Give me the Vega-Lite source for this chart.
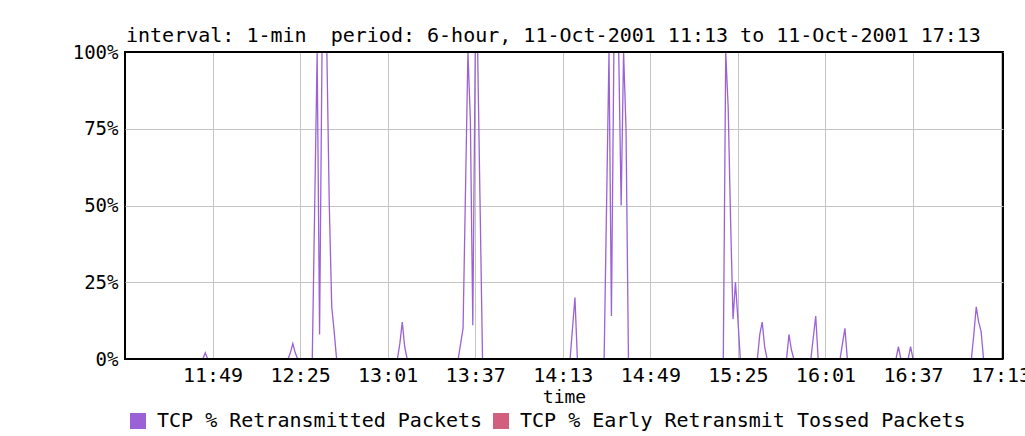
{
"$schema": "https://vega.github.io/schema/vega-lite/v6.json",
"width": 878, "height": 307,
"autosize": "none",
"padding": {"left": 125, "top": 52, "right": 22, "bottom": 77},
"background": "white",
"title": {"text": "interval: 1-min \u00a0period: 6-hour, 11-Oct-2001 11:13 to 11-Oct-2001 17:13", "anchor": "start", "frame": "group", "font": "DejaVu Sans Mono", "fontSize": 20, "fontWeight": "normal", "color": "black", "offset": -3, "dx": 1},
"config": {"view": {"stroke": "black", "strokeWidth": 2}, "font": "DejaVu Sans Mono"},
"data": {"format": {"parse": {"t": "date:'%H:%M'"}}, "values": [
{"t":"11:13","r":0,"e":0},{"t":"11:14","r":0,"e":0},{"t":"11:15","r":0,"e":0},{"t":"11:16","r":0,"e":0},{"t":"11:17","r":0,"e":0},{"t":"11:18","r":0,"e":0},{"t":"11:19","r":0,"e":0},{"t":"11:20","r":0,"e":0},{"t":"11:21","r":0,"e":0},{"t":"11:22","r":0,"e":0},{"t":"11:23","r":0,"e":0},{"t":"11:24","r":0,"e":0},{"t":"11:25","r":0,"e":0},{"t":"11:26","r":0,"e":0},{"t":"11:27","r":0,"e":0},{"t":"11:28","r":0,"e":0},{"t":"11:29","r":0,"e":0},{"t":"11:30","r":0,"e":0},{"t":"11:31","r":0,"e":0},{"t":"11:32","r":0,"e":0},{"t":"11:33","r":0,"e":0},{"t":"11:34","r":0,"e":0},{"t":"11:35","r":0,"e":0},{"t":"11:36","r":0,"e":0},{"t":"11:37","r":0,"e":0},{"t":"11:38","r":0,"e":0},{"t":"11:39","r":0,"e":0},{"t":"11:40","r":0,"e":0},{"t":"11:41","r":0,"e":0},{"t":"11:42","r":0,"e":0},{"t":"11:43","r":0,"e":0},{"t":"11:44","r":0,"e":0},{"t":"11:45","r":0,"e":0},{"t":"11:46","r":2,"e":0},{"t":"11:47","r":0,"e":0},{"t":"11:48","r":0,"e":0},{"t":"11:49","r":0,"e":0},{"t":"11:50","r":0,"e":0},{"t":"11:51","r":0,"e":0},{"t":"11:52","r":0,"e":0},{"t":"11:53","r":0,"e":0},{"t":"11:54","r":0,"e":0},{"t":"11:55","r":0,"e":0},{"t":"11:56","r":0,"e":0},{"t":"11:57","r":0,"e":0},{"t":"11:58","r":0,"e":0},{"t":"11:59","r":0,"e":0},
{"t":"12:00","r":0,"e":0},{"t":"12:01","r":0,"e":0},{"t":"12:02","r":0,"e":0},{"t":"12:03","r":0,"e":0},{"t":"12:04","r":0,"e":0},{"t":"12:05","r":0,"e":0},{"t":"12:06","r":0,"e":0},{"t":"12:07","r":0,"e":0},{"t":"12:08","r":0,"e":0},{"t":"12:09","r":0,"e":0},{"t":"12:10","r":0,"e":0},{"t":"12:11","r":0,"e":0},{"t":"12:12","r":0,"e":0},{"t":"12:13","r":0,"e":0},{"t":"12:14","r":0,"e":0},{"t":"12:15","r":0,"e":0},{"t":"12:16","r":0,"e":0},{"t":"12:17","r":0,"e":0},{"t":"12:18","r":0,"e":0},{"t":"12:19","r":0,"e":0},{"t":"12:20","r":0,"e":0},{"t":"12:21","r":2,"e":0},{"t":"12:22","r":5,"e":0},{"t":"12:23","r":2,"e":0},{"t":"12:24","r":0,"e":0},{"t":"12:25","r":0,"e":0},{"t":"12:26","r":0,"e":0},{"t":"12:27","r":0,"e":0},{"t":"12:28","r":0,"e":0},{"t":"12:29","r":0,"e":0},{"t":"12:30","r":0,"e":0},{"t":"12:31","r":50,"e":0},{"t":"12:32","r":100,"e":0},{"t":"12:33","r":8,"e":0},{"t":"12:34","r":100,"e":0},{"t":"12:35","r":100,"e":0},{"t":"12:36","r":100,"e":0},{"t":"12:37","r":50,"e":0},{"t":"12:38","r":17,"e":0},{"t":"12:39","r":9,"e":0},{"t":"12:40","r":0,"e":0},{"t":"12:41","r":0,"e":0},{"t":"12:42","r":0,"e":0},{"t":"12:43","r":0,"e":0},{"t":"12:44","r":0,"e":0},{"t":"12:45","r":0,"e":0},{"t":"12:46","r":0,"e":0},{"t":"12:47","r":0,"e":0},{"t":"12:48","r":0,"e":0},{"t":"12:49","r":0,"e":0},{"t":"12:50","r":0,"e":0},{"t":"12:51","r":0,"e":0},{"t":"12:52","r":0,"e":0},{"t":"12:53","r":0,"e":0},{"t":"12:54","r":0,"e":0},{"t":"12:55","r":0,"e":0},{"t":"12:56","r":0,"e":0},{"t":"12:57","r":0,"e":0},{"t":"12:58","r":0,"e":0},{"t":"12:59","r":0,"e":0},
{"t":"13:00","r":0,"e":0},{"t":"13:01","r":0,"e":0},{"t":"13:02","r":0,"e":0},{"t":"13:03","r":0,"e":0},{"t":"13:04","r":0,"e":0},{"t":"13:05","r":0,"e":0},{"t":"13:06","r":5,"e":0},{"t":"13:07","r":12,"e":0},{"t":"13:08","r":4,"e":0},{"t":"13:09","r":0,"e":0},{"t":"13:10","r":0,"e":0},{"t":"13:11","r":0,"e":0},{"t":"13:12","r":0,"e":0},{"t":"13:13","r":0,"e":0},{"t":"13:14","r":0,"e":0},{"t":"13:15","r":0,"e":0},{"t":"13:16","r":0,"e":0},{"t":"13:17","r":0,"e":0},{"t":"13:18","r":0,"e":0},{"t":"13:19","r":0,"e":0},{"t":"13:20","r":0,"e":0},{"t":"13:21","r":0,"e":0},{"t":"13:22","r":0,"e":0},{"t":"13:23","r":0,"e":0},{"t":"13:24","r":0,"e":0},{"t":"13:25","r":0,"e":0},{"t":"13:26","r":0,"e":0},{"t":"13:27","r":0,"e":0},{"t":"13:28","r":0,"e":0},{"t":"13:29","r":0,"e":0},{"t":"13:30","r":0,"e":0},{"t":"13:31","r":5,"e":0},{"t":"13:32","r":10,"e":0},{"t":"13:33","r":55,"e":0},{"t":"13:34","r":100,"e":0},{"t":"13:35","r":78,"e":0},{"t":"13:36","r":11,"e":0},{"t":"13:37","r":100,"e":0},{"t":"13:38","r":100,"e":0},{"t":"13:39","r":50,"e":0},{"t":"13:40","r":0,"e":0},{"t":"13:41","r":0,"e":0},{"t":"13:42","r":0,"e":0},{"t":"13:43","r":0,"e":0},{"t":"13:44","r":0,"e":0},{"t":"13:45","r":0,"e":0},{"t":"13:46","r":0,"e":0},{"t":"13:47","r":0,"e":0},{"t":"13:48","r":0,"e":0},{"t":"13:49","r":0,"e":0},{"t":"13:50","r":0,"e":0},{"t":"13:51","r":0,"e":0},{"t":"13:52","r":0,"e":0},{"t":"13:53","r":0,"e":0},{"t":"13:54","r":0,"e":0},{"t":"13:55","r":0,"e":0},{"t":"13:56","r":0,"e":0},{"t":"13:57","r":0,"e":0},{"t":"13:58","r":0,"e":0},{"t":"13:59","r":0,"e":0},
{"t":"14:00","r":0,"e":0},{"t":"14:01","r":0,"e":0},{"t":"14:02","r":0,"e":0},{"t":"14:03","r":0,"e":0},{"t":"14:04","r":0,"e":0},{"t":"14:05","r":0,"e":0},{"t":"14:06","r":0,"e":0},{"t":"14:07","r":0,"e":0},{"t":"14:08","r":0,"e":0},{"t":"14:09","r":0,"e":0},{"t":"14:10","r":0,"e":0},{"t":"14:11","r":0,"e":0},{"t":"14:12","r":0,"e":0},{"t":"14:13","r":0,"e":0},{"t":"14:14","r":0,"e":0},{"t":"14:15","r":0,"e":0},{"t":"14:16","r":0,"e":0},{"t":"14:17","r":10,"e":0},{"t":"14:18","r":20,"e":0},{"t":"14:19","r":0,"e":0},{"t":"14:20","r":0,"e":0},{"t":"14:21","r":0,"e":0},{"t":"14:22","r":0,"e":0},{"t":"14:23","r":0,"e":0},{"t":"14:24","r":0,"e":0},{"t":"14:25","r":0,"e":0},{"t":"14:26","r":0,"e":0},{"t":"14:27","r":0,"e":0},{"t":"14:28","r":0,"e":0},{"t":"14:29","r":0,"e":0},{"t":"14:30","r":0,"e":0},{"t":"14:31","r":50,"e":0},{"t":"14:32","r":100,"e":0},{"t":"14:33","r":14,"e":0},{"t":"14:34","r":100,"e":0},{"t":"14:35","r":100,"e":0},{"t":"14:36","r":100,"e":0},{"t":"14:37","r":50,"e":0},{"t":"14:38","r":100,"e":0},{"t":"14:39","r":75,"e":0},{"t":"14:40","r":0,"e":0},{"t":"14:41","r":0,"e":0},{"t":"14:42","r":0,"e":0},{"t":"14:43","r":0,"e":0},{"t":"14:44","r":0,"e":0},{"t":"14:45","r":0,"e":0},{"t":"14:46","r":0,"e":0},{"t":"14:47","r":0,"e":0},{"t":"14:48","r":0,"e":0},{"t":"14:49","r":0,"e":0},{"t":"14:50","r":0,"e":0},{"t":"14:51","r":0,"e":0},{"t":"14:52","r":0,"e":0},{"t":"14:53","r":0,"e":0},{"t":"14:54","r":0,"e":0},{"t":"14:55","r":0,"e":0},{"t":"14:56","r":0,"e":0},{"t":"14:57","r":0,"e":0},{"t":"14:58","r":0,"e":0},{"t":"14:59","r":0,"e":0},
{"t":"15:00","r":0,"e":0},{"t":"15:01","r":0,"e":0},{"t":"15:02","r":0,"e":0},{"t":"15:03","r":0,"e":0},{"t":"15:04","r":0,"e":0},{"t":"15:05","r":0,"e":0},{"t":"15:06","r":0,"e":0},{"t":"15:07","r":0,"e":0},{"t":"15:08","r":0,"e":0},{"t":"15:09","r":0,"e":0},{"t":"15:10","r":0,"e":0},{"t":"15:11","r":0,"e":0},{"t":"15:12","r":0,"e":0},{"t":"15:13","r":0,"e":0},{"t":"15:14","r":0,"e":0},{"t":"15:15","r":0,"e":0},{"t":"15:16","r":0,"e":0},{"t":"15:17","r":0,"e":0},{"t":"15:18","r":0,"e":0},{"t":"15:19","r":0,"e":0},{"t":"15:20","r":100,"e":0},{"t":"15:21","r":82,"e":0},{"t":"15:22","r":45,"e":0},{"t":"15:23","r":13,"e":0},{"t":"15:24","r":25,"e":0},{"t":"15:25","r":13,"e":0},{"t":"15:26","r":0,"e":0},{"t":"15:27","r":0,"e":0},{"t":"15:28","r":0,"e":0},{"t":"15:29","r":0,"e":0},{"t":"15:30","r":0,"e":0},{"t":"15:31","r":0,"e":0},{"t":"15:32","r":0,"e":0},{"t":"15:33","r":0,"e":0},{"t":"15:34","r":8,"e":0},{"t":"15:35","r":12,"e":0},{"t":"15:36","r":4,"e":0},{"t":"15:37","r":0,"e":0},{"t":"15:38","r":0,"e":0},{"t":"15:39","r":0,"e":0},{"t":"15:40","r":0,"e":0},{"t":"15:41","r":0,"e":0},{"t":"15:42","r":0,"e":0},{"t":"15:43","r":0,"e":0},{"t":"15:44","r":0,"e":0},{"t":"15:45","r":0,"e":0},{"t":"15:46","r":8,"e":0},{"t":"15:47","r":3,"e":0},{"t":"15:48","r":0,"e":0},{"t":"15:49","r":0,"e":0},{"t":"15:50","r":0,"e":0},{"t":"15:51","r":0,"e":0},{"t":"15:52","r":0,"e":0},{"t":"15:53","r":0,"e":0},{"t":"15:54","r":0,"e":0},{"t":"15:55","r":0,"e":0},{"t":"15:56","r":7,"e":0},{"t":"15:57","r":14,"e":0},{"t":"15:58","r":0,"e":0},{"t":"15:59","r":0,"e":0},
{"t":"16:00","r":0,"e":0},{"t":"16:01","r":0,"e":0},{"t":"16:02","r":0,"e":0},{"t":"16:03","r":0,"e":0},{"t":"16:04","r":0,"e":0},{"t":"16:05","r":0,"e":0},{"t":"16:06","r":0,"e":0},{"t":"16:07","r":0,"e":0},{"t":"16:08","r":5,"e":0},{"t":"16:09","r":10,"e":0},{"t":"16:10","r":0,"e":0},{"t":"16:11","r":0,"e":0},{"t":"16:12","r":0,"e":0},{"t":"16:13","r":0,"e":0},{"t":"16:14","r":0,"e":0},{"t":"16:15","r":0,"e":0},{"t":"16:16","r":0,"e":0},{"t":"16:17","r":0,"e":0},{"t":"16:18","r":0,"e":0},{"t":"16:19","r":0,"e":0},{"t":"16:20","r":0,"e":0},{"t":"16:21","r":0,"e":0},{"t":"16:22","r":0,"e":0},{"t":"16:23","r":0,"e":0},{"t":"16:24","r":0,"e":0},{"t":"16:25","r":0,"e":0},{"t":"16:26","r":0,"e":0},{"t":"16:27","r":0,"e":0},{"t":"16:28","r":0,"e":0},{"t":"16:29","r":0,"e":0},{"t":"16:30","r":0,"e":0},{"t":"16:31","r":4,"e":0},{"t":"16:32","r":0,"e":0},{"t":"16:33","r":0,"e":0},{"t":"16:34","r":0,"e":0},{"t":"16:35","r":0,"e":0},{"t":"16:36","r":4,"e":0},{"t":"16:37","r":0,"e":0},{"t":"16:38","r":0,"e":0},{"t":"16:39","r":0,"e":0},{"t":"16:40","r":0,"e":0},{"t":"16:41","r":0,"e":0},{"t":"16:42","r":0,"e":0},{"t":"16:43","r":0,"e":0},{"t":"16:44","r":0,"e":0},{"t":"16:45","r":0,"e":0},{"t":"16:46","r":0,"e":0},{"t":"16:47","r":0,"e":0},{"t":"16:48","r":0,"e":0},{"t":"16:49","r":0,"e":0},{"t":"16:50","r":0,"e":0},{"t":"16:51","r":0,"e":0},{"t":"16:52","r":0,"e":0},{"t":"16:53","r":0,"e":0},{"t":"16:54","r":0,"e":0},{"t":"16:55","r":0,"e":0},{"t":"16:56","r":0,"e":0},{"t":"16:57","r":0,"e":0},{"t":"16:58","r":0,"e":0},{"t":"16:59","r":0,"e":0},
{"t":"17:00","r":0,"e":0},{"t":"17:01","r":0,"e":0},{"t":"17:02","r":8,"e":0},{"t":"17:03","r":17,"e":0},{"t":"17:04","r":12,"e":0},{"t":"17:05","r":9,"e":0},{"t":"17:06","r":0,"e":0},{"t":"17:07","r":0,"e":0},{"t":"17:08","r":0,"e":0},{"t":"17:09","r":0,"e":0},{"t":"17:10","r":0,"e":0},{"t":"17:11","r":0,"e":0},{"t":"17:12","r":0,"e":0},{"t":"17:13","r":0,"e":0}
]},
"layer": [
{
"transform": [{"fold": ["r", "e"], "as": ["series", "value"]}],
"mark": {"type": "line", "strokeWidth": 1.3, "interpolate": "linear"},
"encoding": {
"x": {"field": "t", "type": "temporal",
"scale": {"domain": [{"year": 1900, "month": 1, "date": 1, "hours": 11, "minutes": 13}, {"year": 1900, "month": 1, "date": 1, "hours": 17, "minutes": 14}]},
"axis": {"values": [
{"year": 1900, "month": 1, "date": 1, "hours": 11, "minutes": 49},
{"year": 1900, "month": 1, "date": 1, "hours": 12, "minutes": 25},
{"year": 1900, "month": 1, "date": 1, "hours": 13, "minutes": 1},
{"year": 1900, "month": 1, "date": 1, "hours": 13, "minutes": 37},
{"year": 1900, "month": 1, "date": 1, "hours": 14, "minutes": 13},
{"year": 1900, "month": 1, "date": 1, "hours": 14, "minutes": 49},
{"year": 1900, "month": 1, "date": 1, "hours": 15, "minutes": 25},
{"year": 1900, "month": 1, "date": 1, "hours": 16, "minutes": 1},
{"year": 1900, "month": 1, "date": 1, "hours": 16, "minutes": 37},
{"year": 1900, "month": 1, "date": 1, "hours": 17, "minutes": 13}],
"format": "%H:%M", "title": "time", "titleFont": "DejaVu Sans Mono", "titleFontSize": 18, "titleFontWeight": "normal", "titleColor": "black", "titlePadding": 3,
"labelFont": "DejaVu Sans Mono", "labelFontSize": 20, "labelColor": "black", "labelPadding": 6, "labelFlush": false, "labelOverlap": false,
"ticks": false, "domain": false, "grid": true, "gridColor": "#c4c4c4", "gridWidth": 1}},
"y": {"field": "value", "type": "quantitative", "scale": {"domain": [0, 100]},
"axis": {"values": [0, 25, 50, 75, 100], "labelExpr": "datum.value + '%'", "title": null,
"labelFont": "DejaVu Sans Mono", "labelFontSize": 19, "labelColor": "black", "labelPadding": 7,
"ticks": false, "domain": false, "grid": true, "gridColor": "#c4c4c4", "gridWidth": 1}},
"color": {"field": "series", "type": "nominal",
"scale": {"domain": ["r", "e"], "range": ["#9a62d6", "#d0607e"]},
"legend": {"orient": "none", "legendX": 3, "legendY": 359, "direction": "horizontal", "title": null,
"symbolType": "square", "symbolSize": 256, "symbolStrokeWidth": 0, "columnPadding": 8, "labelOffset": 9, "labelLimit": 0,
"labelFont": "DejaVu Sans Mono", "labelFontSize": 20, "labelColor": "black",
"labelExpr": "datum.label == 'r' ? 'TCP % Retransmitted Packets' : 'TCP % Early Retransmit Tossed Packets'",
"encode": {"symbols": {"update": {"fill": {"scale": "color", "field": "value"}, "fillOpacity": {"value": 1}}}}}}
}
},
{
"data": {"values": [{"v": 0}, {"v": 100}]},
"mark": {"type": "rule", "color": "black", "strokeWidth": 2},
"encoding": {"y": {"field": "v", "type": "quantitative"}}
}
]
}
